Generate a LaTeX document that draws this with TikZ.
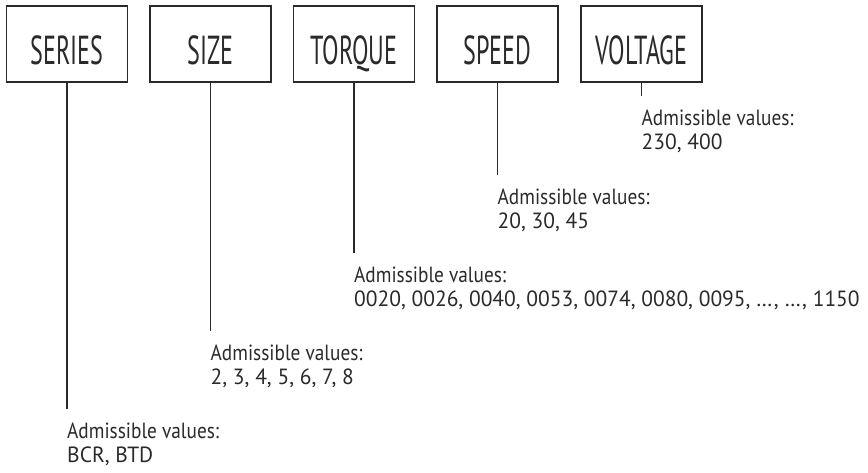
\documentclass[tikz,border=0pt]{standalone}
\usepackage{fontspec}
\setmainfont{PT Sans}
\definecolor{ink}{HTML}{2A2A2A}
\newcommand\admv{\scalebox{0.877}[1]{Admissible values:}}
\newcommand\valtxt[1]{\scalebox{0.977}[1]{#1}}
\newcommand\boxlbl[1]{\scalebox{0.595}[1]{#1}}
\begin{document}
\begin{tikzpicture}[x=1pt,y=-1pt,
  field/.style={draw=ink,line width=1.1pt,minimum width=121pt,minimum height=76pt,inner sep=0pt},
  lbl/.style={anchor=base,inner sep=0pt,font=\fontsize{40.5}{42}\selectfont,text=ink},
  vals/.style={anchor=north west,align=left,inner sep=0pt,font=\fontsize{22}{24}\selectfont,text=ink},
  lead/.style={draw=ink,line width=1.1pt}]
\useasboundingbox (0,0) rectangle (868,472);
\node[field] (series) at (67,44) {};
\node[field] (size) at (210.5,44) {};
\node[field] (torque) at (354,44) {};
\node[field] (speed) at (497.5,44) {};
\node[field] (voltage) at (641.5,44) {};
\node[lbl] (l1) at (67,64.5) {\boxlbl{SERIES}};
\node[lbl] (l2) at (210.5,64.5) {\boxlbl{SIZE}};
\node[lbl] (l3) at (354,64.5) {\boxlbl{TORQUE}};
\node[lbl] (l4) at (497.5,64.5) {\boxlbl{SPEED}};
\node[lbl] (l5) at (641.5,64.5) {\boxlbl{VOLTAGE}};
\coordinate (e1) at (67,409);
\coordinate (e2) at (210.5,331);
\coordinate (e3) at (354,253);
\coordinate (e4) at (497.5,175);
\coordinate (e5) at (641.5,96);
\draw[lead] (series.south) -- (e1);
\draw[lead] (size.south) -- (e2);
\draw[lead] (torque.south) -- (e3);
\draw[lead] (speed.south) -- (e4);
\draw[lead] (voltage.south) -- (e5);
\node[vals] (v1) at (67,423) {\admv\\\valtxt{BCR, BTD}};
\node[vals] (v2) at (210.5,345) {\admv\\\valtxt{2, 3, 4, 5, 6, 7, 8}};
\node[vals] (v3) at (354,267) {\admv\\\valtxt{0020, 0026, 0040, 0053, 0074, 0080, 0095, …, …, 1150}};
\node[vals] (v4) at (497.5,189) {\admv\\\valtxt{20, 30, 45}};
\node[vals] (v5) at (641.5,110) {\admv\\\valtxt{230, 400}};
\end{tikzpicture}
\end{document}
